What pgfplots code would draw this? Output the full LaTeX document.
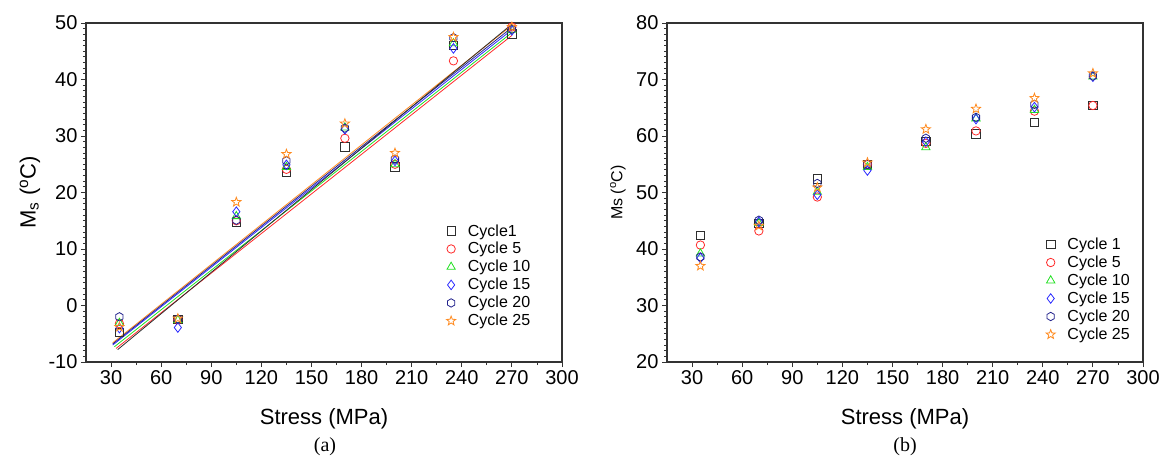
\documentclass[border=0pt]{standalone}
\usepackage{fontspec}
\setmainfont{Liberation Sans}
\newfontfamily\capfont{Liberation Serif}
\usepackage{pgfplots}
\pgfplotsset{compat=1.18}
\usetikzlibrary{plotmarks}

\definecolor{cA}{HTML}{2E2E2E}
\definecolor{cB}{HTML}{FF2A2A}
\definecolor{cC}{HTML}{22E022}
\definecolor{cD}{HTML}{2A2AFF}
\definecolor{cE}{HTML}{22228C}
\definecolor{cF}{HTML}{FF8A1E}

\pgfdeclareplotmark{hexa}{%
  \pgfpathmoveto{\pgfpointpolar{90}{\pgfplotmarksize}}%
  \pgfpathlineto{\pgfpointpolar{150}{\pgfplotmarksize}}%
  \pgfpathlineto{\pgfpointpolar{210}{\pgfplotmarksize}}%
  \pgfpathlineto{\pgfpointpolar{270}{\pgfplotmarksize}}%
  \pgfpathlineto{\pgfpointpolar{330}{\pgfplotmarksize}}%
  \pgfpathlineto{\pgfpointpolar{30}{\pgfplotmarksize}}%
  \pgfpathclose\pgfusepathqstroke}
\pgfdeclareplotmark{ostar}{%
  \pgfpathmoveto{\pgfpointpolar{90}{1.15\pgfplotmarksize}}%
  \pgfpathlineto{\pgfpointpolar{126}{0.48\pgfplotmarksize}}%
  \pgfpathlineto{\pgfpointpolar{162}{1.15\pgfplotmarksize}}%
  \pgfpathlineto{\pgfpointpolar{198}{0.48\pgfplotmarksize}}%
  \pgfpathlineto{\pgfpointpolar{234}{1.15\pgfplotmarksize}}%
  \pgfpathlineto{\pgfpointpolar{270}{0.48\pgfplotmarksize}}%
  \pgfpathlineto{\pgfpointpolar{306}{1.15\pgfplotmarksize}}%
  \pgfpathlineto{\pgfpointpolar{342}{0.48\pgfplotmarksize}}%
  \pgfpathlineto{\pgfpointpolar{18}{1.15\pgfplotmarksize}}%
  \pgfpathlineto{\pgfpointpolar{54}{0.48\pgfplotmarksize}}%
  \pgfpathclose\pgfusepathqstroke}

\pgfplotsset{
  myax/.style={
    scale only axis, width=476pt, height=339pt, anchor=south west,
    xmin=15, xmax=300, xtick={30,60,...,300}, minor x tick num=1,
    minor y tick num=9,
    axis line style={line width=1.2pt, color=black!80},
    every tick/.style={line width=0.9pt, color=black!80},
    major tick length=5pt, minor tick length=3pt,
    tick align=outside, tick pos=left,
    ticklabel style={font=\fontsize{20}{24}\selectfont},
    /pgf/number format/assume math mode=true,
    xlabel={Stress (MPa)},
    x label style={font=\fontsize{22}{26}\selectfont, at={(axis description cs:0.5,-0.168)}, anchor=center},
    legend image code/.code={\draw[#1] plot coordinates {(0pt,0pt)};},
    legend cell align=left,
    legend style={draw=none, fill=none, inner sep=0pt, anchor=north west,
      font=\fontsize{16}{19}\selectfont, row sep=2.5pt,
      nodes={inner sep=1.2pt}, /tikz/every odd column/.append style={column sep=11pt}},
    mk/.style={only marks, mark size=4.2pt, line width=0.8pt, mark options={solid}},
  }
}

\begin{document}
\begin{tikzpicture}
\path[use as bounding box] (0,0) rectangle (1162pt,461pt);

% ---------------- panel (a)
\begin{axis}[myax, at={(86pt,99pt)},
  ymin=-10, ymax=50, ytick={-10,0,...,50},
  ylabel={M\textsubscript{s} (\textsuperscript{o}C)},
  y label style={font=\fontsize{22}{26}\selectfont, at={(axis description cs:-0.118,0.5)}, anchor=center},
  legend style={at={(axis description cs:0.757,0.41)}}]
\addplot[cA, mk, mark=square] coordinates {(35,-4.8) (70,-2.5) (105,14.7) (135,23.6) (170,28.1) (200,24.5) (235,46.0) (270,48.1)};
\addlegendentry{Cycle1}
\addplot[cB, mk, mark=o] coordinates {(35,-3.2) (70,-2.5) (105,15.0) (135,24.1) (170,29.6) (200,25.0) (235,43.3) (270,49.3)};
\addlegendentry{Cycle 5}
\addplot[cC, mk, mark=triangle, mark size=4.8pt] coordinates {(35,-3.1) (70,-2.6) (105,15.8) (135,24.5) (170,31.5) (200,25.0) (235,46.4) (270,48.8)};
\addlegendentry{Cycle 10}
\addplot[cD, mk, mark=diamond, mark size=4.8pt] coordinates {(35,-4.0) (70,-3.9) (105,16.6) (135,24.9) (170,31.2) (200,25.6) (235,45.5) (270,48.7)};
\addlegendentry{Cycle 15}
\addplot[cE, mk, mark=hexa] coordinates {(35,-2.0) (70,-2.4) (105,15.1) (135,25.6) (170,31.4) (200,25.9) (235,47.4) (270,48.9)};
\addlegendentry{Cycle 20}
\addplot[cF, mk, mark=ostar] coordinates {(35,-3.8) (70,-2.3) (105,18.3) (135,26.8) (170,32.2) (200,27.0) (235,47.5) (270,49.3)};
\addlegendentry{Cycle 25}
% linear fits
\addplot[cF, line width=0.8pt, forget plot] coordinates {(31,-6.6) (270,49.6)};
\addplot[cD, line width=0.8pt, forget plot] coordinates {(31,-7.0) (270,48.8)};
\addplot[cE, line width=0.8pt, forget plot] coordinates {(31,-6.8) (270,49.2)};
\addplot[cC, line width=0.8pt, forget plot] coordinates {(32,-7.3) (270,48.3)};
\addplot[cB, line width=0.8pt, forget plot] coordinates {(33,-7.6) (270,47.8)};
\addplot[cA, line width=0.8pt, forget plot] coordinates {(34,-7.8) (270,49.8)};
\end{axis}

% ---------------- panel (b)
\begin{axis}[myax, at={(667pt,99pt)},
  ymin=20, ymax=80, ytick={20,30,...,80},
  ylabel={Ms (\textsuperscript{o}C)},
  y label style={font=\fontsize{16}{19}\selectfont, at={(axis description cs:-0.103,0.5)}, anchor=center},
  legend style={at={(axis description cs:0.796,0.37)}}]
\addplot[cA, mk, mark=square] coordinates {(35,42.4) (70,44.5) (105,52.4) (135,55.0) (170,59.0) (200,60.4) (235,62.4) (270,65.4)};
\addlegendentry{Cycle 1}
\addplot[cB, mk, mark=o] coordinates {(35,40.7) (70,43.2) (105,49.2) (135,55.0) (170,58.7) (200,60.9) (235,64.4) (270,65.4)};
\addlegendentry{Cycle 5}
\addplot[cC, mk, mark=triangle, mark size=4.8pt] coordinates {(35,39.2) (70,44.6) (105,50.1) (135,54.5) (170,58.0) (200,63.1) (235,64.6) (270,70.5)};
\addlegendentry{Cycle 10}
\addplot[cD, mk, mark=diamond, mark size=4.8pt] coordinates {(35,38.4) (70,44.8) (105,49.6) (135,53.9) (170,59.0) (200,63.0) (235,65.1) (270,70.5)};
\addlegendentry{Cycle 15}
\addplot[cE, mk, mark=hexa] coordinates {(35,38.6) (70,45.1) (105,51.6) (135,55.0) (170,59.6) (200,63.3) (235,65.6) (270,70.6)};
\addlegendentry{Cycle 20}
\addplot[cF, mk, mark=ostar] coordinates {(35,37.0) (70,44.1) (105,50.9) (135,55.3) (170,61.2) (200,64.8) (235,66.7) (270,71.1)};
\addlegendentry{Cycle 25}
\end{axis}

\node[font=\capfont\fontsize{20}{24}\selectfont] at (325pt,14pt) {(a)};
\node[font=\capfont\fontsize{20}{24}\selectfont] at (905pt,14pt) {(b)};
\end{tikzpicture}
\end{document}
